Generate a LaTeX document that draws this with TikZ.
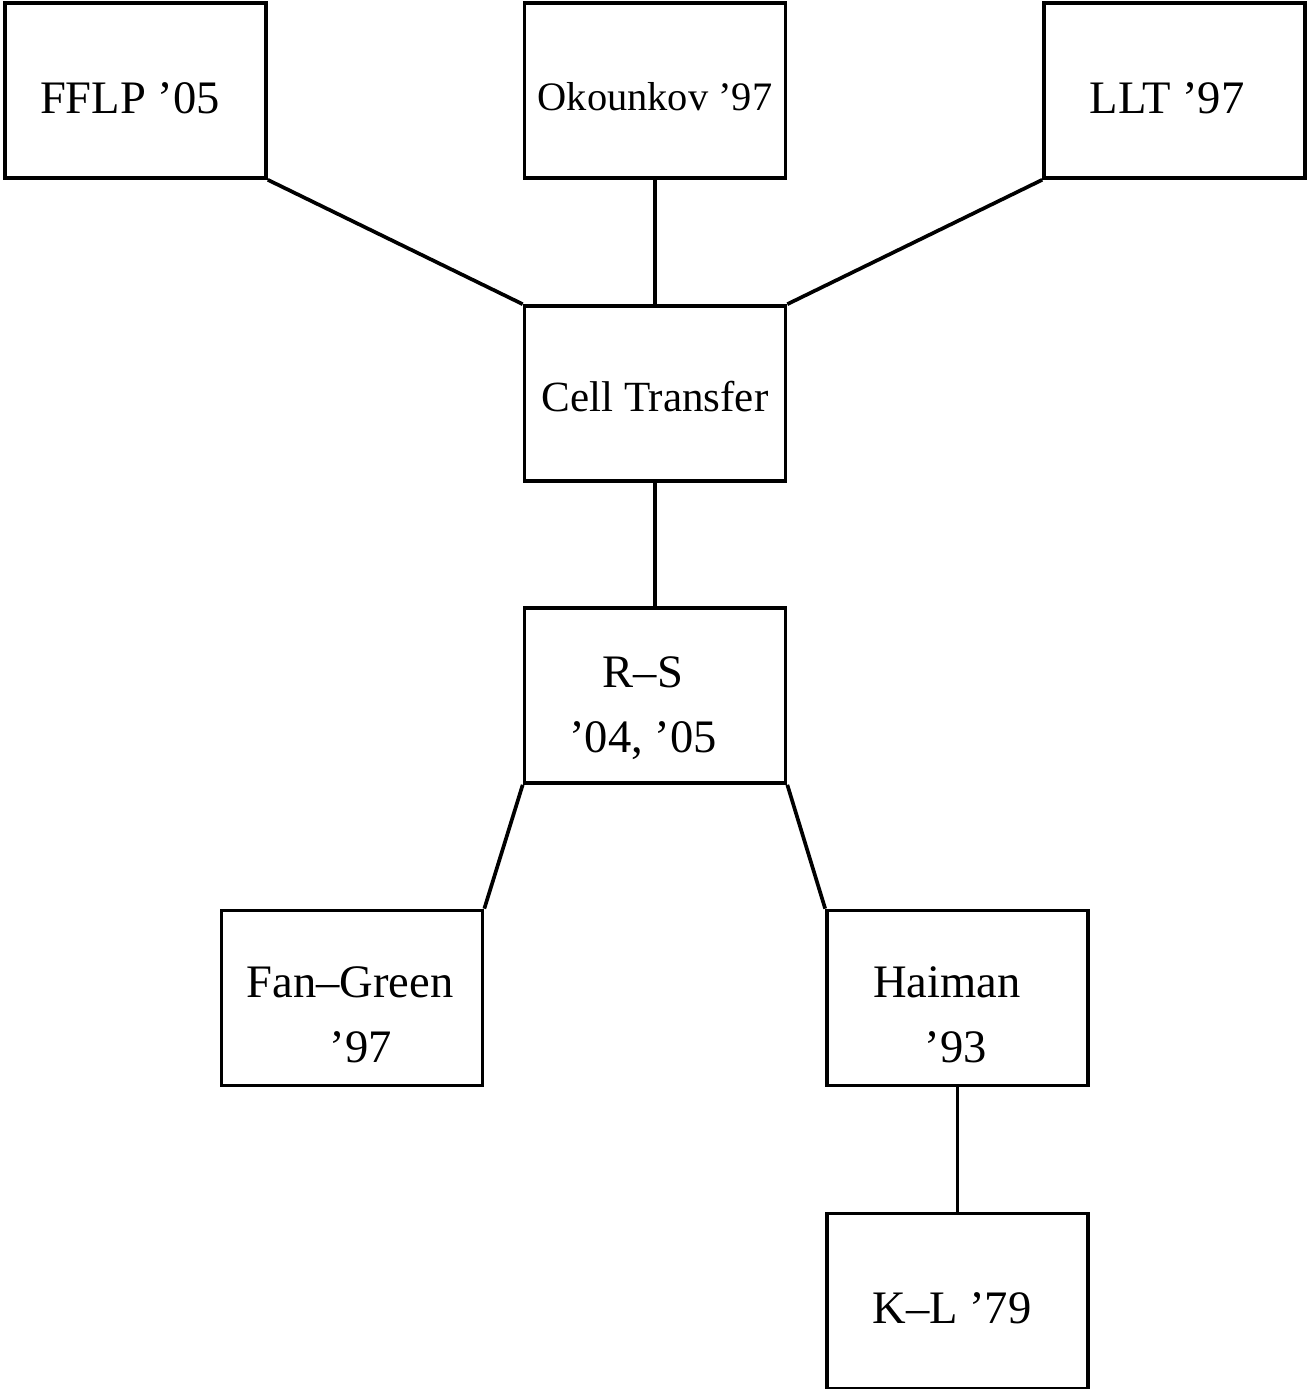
\documentclass[tikz,border=0pt]{standalone}
\usepackage{fontspec}
\setmainfont{Liberation Serif}
\begin{document}
\begin{tikzpicture}[x=0.02cm,y=-0.02cm,
  box/.style={draw,line width=2.1pt,rectangle,minimum width=5.22cm,minimum height=3.5cm,inner sep=0pt},
  txt/.style={inner sep=0pt,align=center},
  big/.style={font=\fontsize{26.5}{37}\selectfont},
  mid/.style={font=\fontsize{24.5}{37}\selectfont},
  small/.style={font=\fontsize{23}{37}\selectfont},
  conn/.style={line width=2.1pt}]
\useasboundingbox (0,0) rectangle (1309,1389);
\node[box] (fflp) at (135.5,90.5)  {};
\node[box] (okou) at (655,90.5)    {};
\node[box] (llt)  at (1174.5,90.5) {};
\node[box] (cell) at (655,393.5)   {};
\node[box] (rs)   at (655,695.5)   {};
\node[box] (fg)   at (352,998)     {};
\node[box] (hai)  at (957.5,998)   {};
\node[box] (kl)   at (957.5,1301)  {};
\node[txt,big]   (fflpT) at (130,98)   {FFLP ’05};
\node[txt,small] (okouT) at (655,97)   {Okounkov ’97};
\node[txt,big]   (lltT)  at (1167,98)  {LLT ’97};
\node[txt,mid]   (cellT) at (655,397)  {Cell Transfer};
\node[txt,big]   (rsT)   at (643,708)  {R–S\\’04, ’05};
\node[txt,big]   (fgT)   at (350,1015) {Fan–Green\\\hspace{0.44cm}’97};
\node[txt,big]   (haiT)  at (947,1015) {Haiman\\\hspace{0.36cm}’93};
\node[txt,big]   (klT)   at (952,1308) {K–L ’79};
\draw[conn] (fflp.south east) -- (cell.north west);
\draw[conn] (okou.south) -- (cell.north);
\draw[conn] (llt.south west) -- (cell.north east);
\draw[conn] (cell.south) -- (rs.north);
\draw[conn] (rs.south west) -- (fg.north east);
\draw[conn] (rs.south east) -- (hai.north west);
\draw[conn] (hai.south) -- (kl.north);
\end{tikzpicture}
\end{document}
